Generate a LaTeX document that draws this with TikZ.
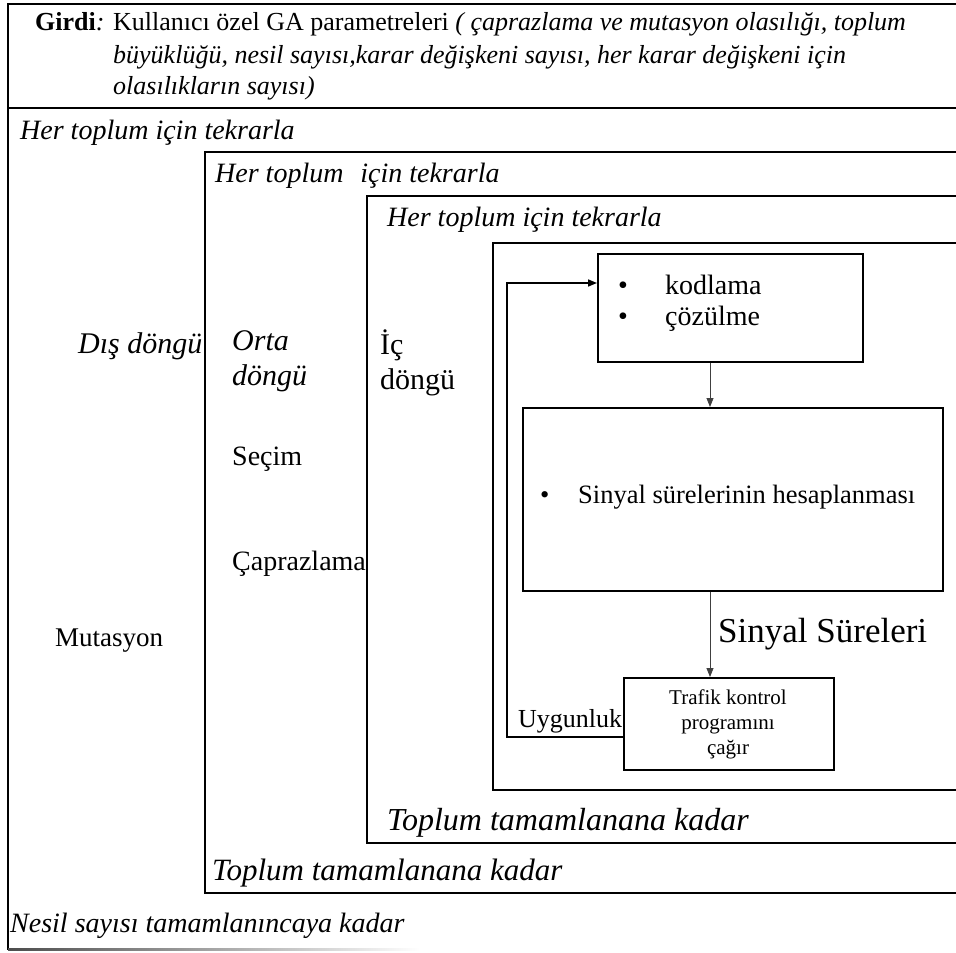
\documentclass[tikz,border=0pt]{standalone}
\usepackage{fontspec}
\setmainfont{Liberation Serif}
\usetikzlibrary{arrows.meta}

\tikzset{
  heavy/.style={line width=2.6pt},
  frame/.style={line width=1.6pt},
  box/.style={draw, line width=1.6pt, inner sep=0pt, anchor=north west},
  txt/.style={inner sep=0pt, anchor=base west},
  twoline/.style={inner sep=0pt, anchor=north west, align=left},
  link/.style={line width=0.8pt, draw=black!75, -{Triangle[length=9pt,width=7pt]}},
  back/.style={line width=1.6pt, -{Triangle[length=9pt,width=7pt]}},
}
\newcommand{\fs}[1]{\fontsize{#1}{#1}\selectfont}

\begin{document}
\begin{tikzpicture}[x=1pt,y=-1pt]
\useasboundingbox (0,0) rectangle (956,953);

% input panel
\draw[heavy] (956,4) -- (8,4) -- (8,108) -- (956,108);
\node[txt] (in1) at (35,30) {\fs{26}\textbf{Girdi}\textit{:} Kullanıcı özel GA parametreleri \textit{( çaprazlama ve mutasyon olasılığı, toplum}};
\node[txt] (in2) at (113,63) {\fs{26}\itshape büyüklüğü, nesil sayısı,karar değişkeni sayısı, her karar değişkeni için};
\node[txt] (in3) at (113,94) {\fs{26}\itshape olasılıkların sayısı)};

% outer loop
\draw[frame] (8,108) -- (8,950);
\shade[left color=black!70, right color=white] (8,948.8) rectangle (420,950.8);
\node[txt] (outHead) at (20,139) {\fs{28}\itshape Her toplum için tekrarla};
\node[txt] (outFoot) at (10,932) {\fs{28}\itshape Nesil sayısı tamamlanıncaya kadar};
\node[txt] (outName) at (78,353) {\fs{30}\itshape Dış döngü};
\node[txt] (mut) at (55,646) {\fs{27}Mutasyon};

% middle loop
\draw[frame] (956,152) -- (205,152) -- (205,893) -- (956,893);
\node[txt] (midHead) at (215,182) {\fs{28}\itshape Her toplum\hspace{0.6em}için tekrarla};
\node[txt] (midFoot) at (212,880) {\fs{31}\itshape Toplum tamamlanana kadar};
\node[twoline, font={\fontsize{30}{35}\selectfont\itshape}] (midName) at (232,330) {Orta\\döngü};
\node[txt] (sec) at (232,465) {\fs{28}Seçim};
\node[txt] (cap) at (232,570) {\fs{28}Çaprazlama};

% inner loop
\draw[frame] (956,196) -- (367,196) -- (367,843) -- (956,843);
\node[txt] (inHead) at (387,226) {\fs{28}\itshape Her toplum için tekrarla};
\node[txt] (inFoot) at (387,830) {\fs{32}\itshape Toplum tamamlanana kadar};
\node[twoline, font={\fontsize{30}{35}\selectfont}] (inName) at (380,330) {İç\\döngü};

% evaluation block
\draw[frame] (956,243) -- (493,243) -- (493,790) -- (956,790);

\node[box, minimum width=265pt, minimum height=108pt] (kod) at (597,253) {};
\node[txt] (kodA) at (618,294) {\fs{28}\makebox[47pt][l]{•}kodlama};
\node[txt] (kodB) at (618,325) {\fs{28}\makebox[47pt][l]{•}çözülme};

\node[box, minimum width=420pt, minimum height=183pt] (sig) at (522,407) {};
\node[txt] (sigT) at (540,503) {\fs{26.5}\makebox[38pt][l]{•}Sinyal sürelerinin hesaplanması};

\node[box, minimum width=210pt, minimum height=92pt] (traf) at (623,677) {};
\node[inner sep=0pt, align=center, font={\fontsize{21}{25}\selectfont}] (trafT) at (728,724) {Trafik kontrol\\programını\\çağır};

\node[txt] (sure) at (718,642) {\fs{35}Sinyal Süreleri};
\node[txt] (uyg) at (518,727) {\fs{26}Uygunluk};

% connectors
\coordinate (axis) at (710,0);
\coordinate (fbLow) at (507,737);
\coordinate (fbHigh) at (507,283);
\draw[link] (kod.south -| axis) -- (sig.north -| axis);
\draw[link] (sig.south -| axis) -- (traf.north -| axis);
\draw[back] (traf.west |- fbLow) -- (fbLow) -- (fbHigh) -- (kod.west |- fbHigh);
\end{tikzpicture}
\end{document}
